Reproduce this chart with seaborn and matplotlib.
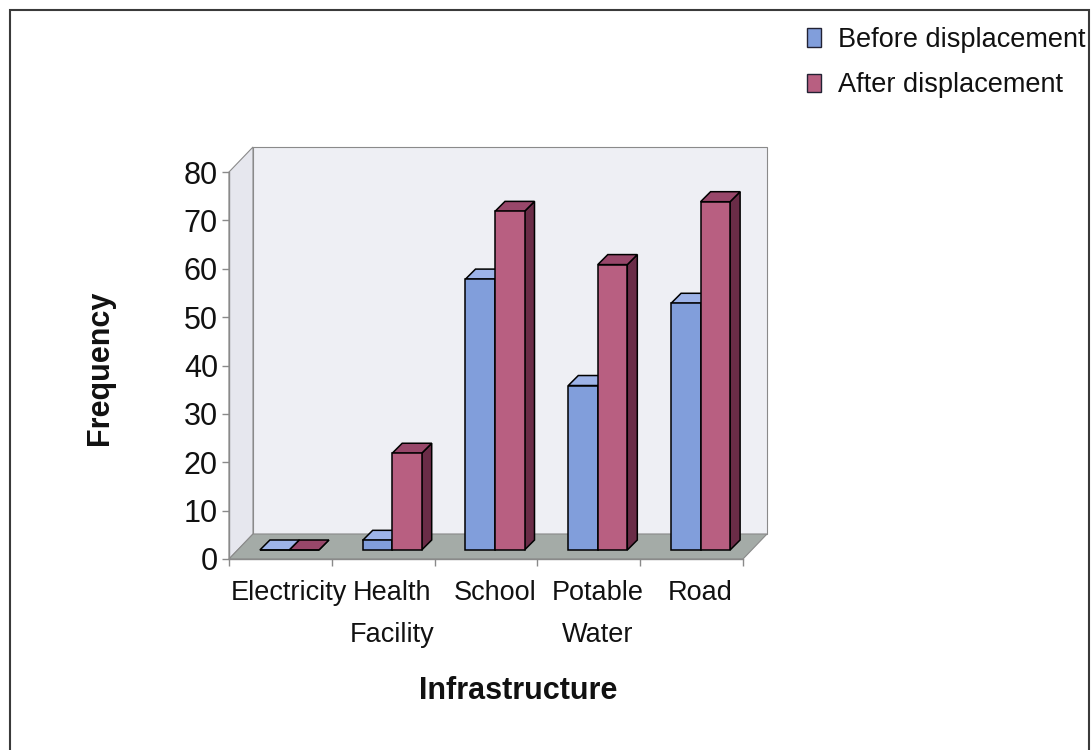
import numpy as np
import pandas as pd
import seaborn as sns
import matplotlib
matplotlib.use("Agg")
import matplotlib.pyplot as plt
from matplotlib.patches import Polygon, Rectangle, Patch
from matplotlib.transforms import offset_copy, ScaledTranslation

# ---- data -------------------------------------------------------------
categories = ["Electricity", "Health\nFacility", "School", "Potable\nWater", "Road"]
before = [0, 2, 56, 34, 51]
after = [0, 20, 70, 59, 72]
series = ["Before displacement", "After displacement"]
yticks = [0, 10, 20, 30, 40, 50, 60, 70, 80]

df = pd.DataFrame({
    "Infrastructure": categories * 2,
    "Frequency": before + after,
    "Series": [series[0]] * len(categories) + [series[1]] * len(categories),
})

# ---- style ------------------------------------------------------------
sns.set_theme(style="white")
plt.rcParams["font.family"] = ["Liberation Sans", "DejaVu Sans"]

front_col = ["#819edb", "#b85f81"]
top_col = ["#9db3e8", "#98476a"]
side_col = ["#56709f", "#6a2c47"]
wall_col = "#eeeff4"
side_wall_col = "#e6e7ee"
floor_col = "#a4aba7"
edge_grey = "#8a8a8a"

W, H = 1091, 750
fig = plt.figure(figsize=(W / 100, H / 100), dpi=100)
fig.patch.set_facecolor("white")

# front plane of the plot box (pixels): x 229..743, y 559..172
ax = fig.add_axes([229 / W, (H - 559) / H, 514 / W, 387 / H])

sns.barplot(data=df, x="Infrastructure", y="Frequency", hue="Series",
            palette=front_col, saturation=1, width=0.574, edgecolor="black",
            linewidth=1.1, ax=ax, legend=False)
ax.set_xlim(-0.5, len(categories) - 0.5)
ax.set_ylim(0, 80)
ax.patch.set_alpha(0)

# depth of the box and of the bars, in pixels
DX, DY = 24, 25
BF, BB = 9, 19


def off(x, y, px, py):
    d = ax.transData.transform((x, y))
    return tuple(ax.transData.inverted().transform((d[0] + px, d[1] + py)))


x0, x1 = -0.5, len(categories) - 0.5
# back wall, side wall and floor
walls = [
    ([off(x0, 0, DX, DY), off(x1, 0, DX, DY), off(x1, 80, DX, DY), off(x0, 80, DX, DY)], wall_col),
    ([(x0, 0), (x0, 80), off(x0, 80, DX, DY), off(x0, 0, DX, DY)], side_wall_col),
    ([(x0, 0), (x1, 0), off(x1, 0, DX, DY), off(x0, 0, DX, DY)], floor_col),
]
for pts, col in walls:
    ax.add_patch(Polygon(pts, closed=True, facecolor=col, edgecolor=edge_grey,
                         linewidth=0.8, zorder=0.5, clip_on=False))

# extrude each bar: shift front face back, add top and side faces
front_t = offset_copy(ax.transData, fig=fig, x=BF, y=BF, units="dots")
for k, cont in enumerate(ax.containers):
    for bar in cont:
        bx0 = bar.get_x()
        bx1 = bx0 + bar.get_width()
        h = bar.get_height()
        bar.set_transform(front_t)
        bar.set_zorder(3 + k)
        bar.set_clip_on(False)
        side = [off(bx1, 0, BF, BF), off(bx1, h, BF, BF),
                off(bx1, h, BB, BB), off(bx1, 0, BB, BB)]
        top = [off(bx0, h, BF, BF), off(bx1, h, BF, BF),
               off(bx1, h, BB, BB), off(bx0, h, BB, BB)]
        ax.add_patch(Polygon(side, closed=True, facecolor=side_col[k],
                             edgecolor="black", linewidth=1.1,
                             zorder=2 + k, clip_on=False))
        ax.add_patch(Polygon(top, closed=True, facecolor=top_col[k],
                             edgecolor="black", linewidth=1.1,
                             zorder=2 + k, clip_on=False))

# axes
for s in ["top", "right"]:
    ax.spines[s].set_visible(False)
for s in ["left", "bottom"]:
    ax.spines[s].set_color(edge_grey)
    ax.spines[s].set_linewidth(1.0)
    ax.spines[s].set_zorder(1)

ax.set_yticks(yticks)
ax.set_yticklabels([str(v) for v in yticks])
ax.tick_params(axis="y", length=5, width=1.0, color=edge_grey,
               labelsize=22, pad=3, left=True, labelcolor="#111111")
ax.set_xticks(range(len(categories)))
ax.set_xticklabels(categories, linespacing=1.8)
ax.set_xticks(np.arange(len(categories) + 1) - 0.5, minor=True)
ax.tick_params(axis="x", which="major", length=0, labelsize=19.5, pad=15,
               labelcolor="#111111")
ax.tick_params(axis="x", which="minor", length=5, width=1.0, color=edge_grey,
               bottom=True)
# category names sit under the bars, which stand slightly back in depth
shift = ScaledTranslation(BF / 100, 0, fig.dpi_scale_trans)
for lab in ax.get_xticklabels():
    lab.set_transform(lab.get_transform() + shift)
ax.set_xlabel("")
ax.set_ylabel("")

fig.text(518 / W, 1 - 691 / H, "Infrastructure", ha="center", va="center",
         fontsize=22, fontweight="bold", color="#111111")
fig.text(100 / W, 1 - 368 / H, "Frequency", ha="center", va="center",
         rotation=90, fontsize=22, fontweight="bold", color="#111111")

handles = [Patch(facecolor=front_col[i], edgecolor="#222233", linewidth=1.0)
           for i in range(2)]
fig.legend(handles, series, loc="upper left",
           bbox_to_anchor=(807 / W, 1 - 27 / H), frameon=False,
           fontsize=19.5, handlelength=0.53, handleheight=0.68,
           handletextpad=0.6, labelspacing=0.72, borderpad=0,
           borderaxespad=0, labelcolor="#111111")

# outer chart border
fig.add_artist(Rectangle((10 / W, -0.05), (1089 - 10) / W, 740 / H + 0.05,
                         transform=fig.transFigure, fill=False,
                         edgecolor="#3a3a3a", linewidth=1.5))

fig.savefig("out.png", dpi=100)
